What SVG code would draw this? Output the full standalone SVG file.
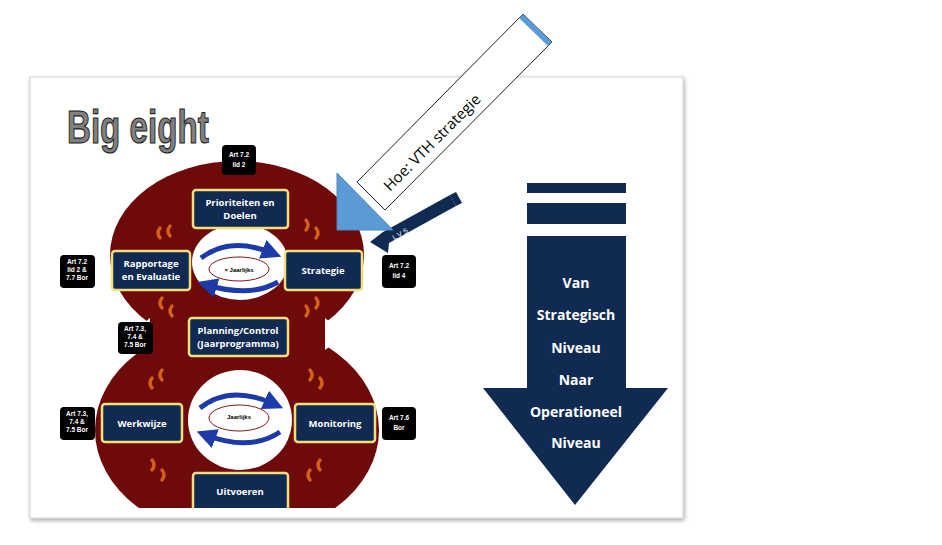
<svg xmlns="http://www.w3.org/2000/svg" width="942" height="545" viewBox="0 0 942 545">
<defs>
<style>
.box{fill:#102a52;stroke:#f2de7a;stroke-width:2.5}
.bt{fill:#fff;font-family:"Open Sans","Liberation Sans",sans-serif;font-weight:bold;font-size:9.5px;text-anchor:middle}
.lb{fill:#000}
.lt{fill:#fff;font-family:"Liberation Sans",sans-serif;font-weight:bold;font-size:6.5px;text-anchor:middle}
.at{fill:#fff;font-family:"Open Sans","Liberation Sans",sans-serif;font-weight:bold;font-size:14px;text-anchor:middle}
.or{fill:none;stroke:#d2601a;stroke-width:3.5;stroke-linecap:round}
.cy{fill:none;stroke:#1c3aa8;stroke-width:5}
</style>
<marker id="ah" markerWidth="4" markerHeight="4" refX="2" refY="2" orient="auto"><path d="M0,0 L4,2 L0,4 z" fill="#1c3aa8"/></marker>
<filter id="sh" x="-5%" y="-5%" width="110%" height="110%"><feDropShadow dx="1" dy="2" stdDeviation="2" flood-color="#000" flood-opacity="0.35"/></filter>
<clipPath id="card"><rect x="30" y="77" width="653" height="431"/></clipPath>
</defs>
<rect width="942" height="545" fill="#fff"/>
<rect x="30" y="77" width="653" height="441" fill="#fff" stroke="#d0d0d0" filter="url(#sh)"/>
<text x="0" y="0" font-family="Liberation Sans,sans-serif" font-weight="bold" font-size="46" fill="#808080" stroke="#222" stroke-width="1.2" transform="translate(67 143) scale(0.72 1)">Big eight</text>
<g clip-path="url(#card)">
<g id="eight">
<ellipse cx="237" cy="255" rx="127" ry="94" fill="#6e0a0a"/>
<ellipse cx="237" cy="430" rx="142" ry="108" fill="#6e0a0a"/>
<rect x="150" y="320" width="175" height="30" fill="#6e0a0a"/>
<polygon points="150,318 128,335 150,350" fill="#fff"/>
<polygon points="325,318 346,335 325,350" fill="#fff"/>
<ellipse cx="240" cy="262" rx="48" ry="38" fill="#fff"/>
<ellipse cx="240" cy="420" rx="52" ry="50" fill="#fff"/>
<ellipse cx="239" cy="269" rx="30" ry="12" fill="#fff" stroke="#7a1a1a"/>
<ellipse cx="239" cy="418" rx="30" ry="13" fill="#fff" stroke="#7a1a1a"/>
<path class="cy" d="M201,258 Q230,236 272,253" marker-end="url(#ah)"/><path class="cy" d="M278,282 Q250,298 207,285" marker-end="url(#ah)"/>
<path class="cy" d="M200,408 Q230,384 274,404" marker-end="url(#ah)"/><path class="cy" d="M280,432 Q250,452 206,435" marker-end="url(#ah)"/>
<g class="or">
<path d="M160,228 q-4,5 0,10"/><path d="M170,226 q-4,5 0,10"/>
<path d="M306,220 q4,5 0,10"/><path d="M316,228 q4,5 0,10"/>
<path d="M162,308 q-4,-5 0,-10"/><path d="M172,316 q-4,-5 0,-10"/>
<path d="M306,316 q4,-5 0,-10"/><path d="M316,308 q4,-5 0,-10"/>
<path d="M152,378 q-4,5 0,10"/><path d="M162,370 q-4,5 0,10"/>
<path d="M310,370 q4,5 0,10"/><path d="M320,378 q4,5 0,10"/>
<path d="M152,460 q4,5 0,10"/><path d="M162,470 q4,5 0,10"/>
<path d="M310,470 q-4,5 0,10"/><path d="M320,460 q-4,5 0,10"/>
</g>
<text x="239" y="272" font-family="Liberation Sans,sans-serif" font-weight="bold" font-size="6" text-anchor="middle">× Jaarlijks</text>
<text x="239" y="419" font-family="Liberation Sans,sans-serif" font-weight="bold" font-size="6" text-anchor="middle">Jaarlijks</text>
</g>
<g id="n-prio"><rect class="box" x="193" y="190" width="95" height="38" rx="3"/><text class="bt" x="240" y="206">Prioriteiten en</text><text class="bt" x="240" y="219">Doelen</text></g>
<g id="n-rapp"><rect class="box" x="112" y="251" width="78" height="39" rx="3"/><text class="bt" x="151" y="267">Rapportage</text><text class="bt" x="151" y="280">en Evaluatie</text></g>
<g id="n-strat"><rect class="box" x="285" y="251" width="77" height="39" rx="3"/><text class="bt" x="323" y="274">Strategie</text></g>
<g id="n-plan"><rect class="box" x="189" y="318" width="99" height="38" rx="3"/><text class="bt" x="238" y="334">Planning/Control</text><text class="bt" x="238" y="347">(Jaarprogramma)</text></g>
<g id="n-werk"><rect class="box" x="102" y="404" width="80" height="38" rx="3"/><text class="bt" x="142" y="427">Werkwijze</text></g>
<g id="n-mon"><rect class="box" x="295" y="404" width="80" height="38" rx="3"/><text class="bt" x="335" y="427">Monitoring</text></g>
<g id="n-uit"><rect class="box" x="193" y="473" width="95" height="40" rx="3"/><text class="bt" x="240" y="495">Uitvoeren</text></g>
</g>
<g id="labels">
<rect class="lb" x="222" y="145" width="34" height="30" rx="4"/><text class="lt" x="239" y="157">Art 7.2</text><text class="lt" x="239" y="167">lid 2</text>
<rect class="lb" x="60" y="255" width="35" height="33" rx="4"/><text class="lt" x="77" y="264">Art 7.2</text><text class="lt" x="77" y="272">lid 2 &amp;</text><text class="lt" x="77" y="280">7.7 Bor</text>
<rect class="lb" x="382" y="255" width="34" height="33" rx="4"/><text class="lt" x="399" y="268">Art 7.2</text><text class="lt" x="399" y="278">lid 4</text>
<rect class="lb" x="118" y="322" width="35" height="32" rx="4"/><text class="lt" x="135" y="331">Art 7.3,</text><text class="lt" x="135" y="339">7.4 &amp;</text><text class="lt" x="135" y="347">7.5 Bor</text>
<rect class="lb" x="60" y="407" width="35" height="33" rx="4"/><text class="lt" x="77" y="416">Art 7.3,</text><text class="lt" x="77" y="424">7.4 &amp;</text><text class="lt" x="77" y="432">7.5 Bor</text>
<rect class="lb" x="382" y="407" width="34" height="33" rx="4"/><text class="lt" x="399" y="420">Art 7.6</text><text class="lt" x="399" y="430">Bor</text>
</g>
<g id="connectors">
<g id="lvs">
<polygon points="370,242 383,232 450,195 456,206 389,243 388,253" fill="#102a52"/>
<polygon points="450,195 456,192 462,203 456,206" fill="#102a52"/>
<text x="0" y="0" transform="translate(394 240) rotate(-29)" font-family="Liberation Sans,sans-serif" font-size="7" fill="#fff" letter-spacing="2">LVS</text>
</g>
<g id="vth">
<polygon points="357,182 523,14 552,42 385,210" fill="#fff" stroke="#222" stroke-width="1"/>
<polygon points="523,14 552,42 548,46 519,18" fill="#5b9bd5"/>
<polygon points="337,173 337,230 393,230" fill="#5b9bd5" stroke="#4a86c0"/>
<text transform="translate(390 192) rotate(-45)" font-family="Open Sans,Liberation Sans,sans-serif" font-size="15" fill="#000">Hoe: VTH strategie</text>
</g>
</g>
<g id="bigarrow">
<rect x="527" y="183" width="99" height="10" fill="#102a52"/>
<rect x="527" y="203" width="99" height="21" fill="#102a52"/>
<polygon points="527,236 626,236 626,388 668,388 575,505 483,388 527,388" fill="#102a52"/>
<text class="at" x="576" y="288">Van</text>
<text class="at" x="576" y="320">Strategisch</text>
<text class="at" x="576" y="353">Niveau</text>
<text class="at" x="576" y="385">Naar</text>
<text class="at" x="576" y="417">Operationeel</text>
<text class="at" x="576" y="448">Niveau</text>
</g>
</svg>
